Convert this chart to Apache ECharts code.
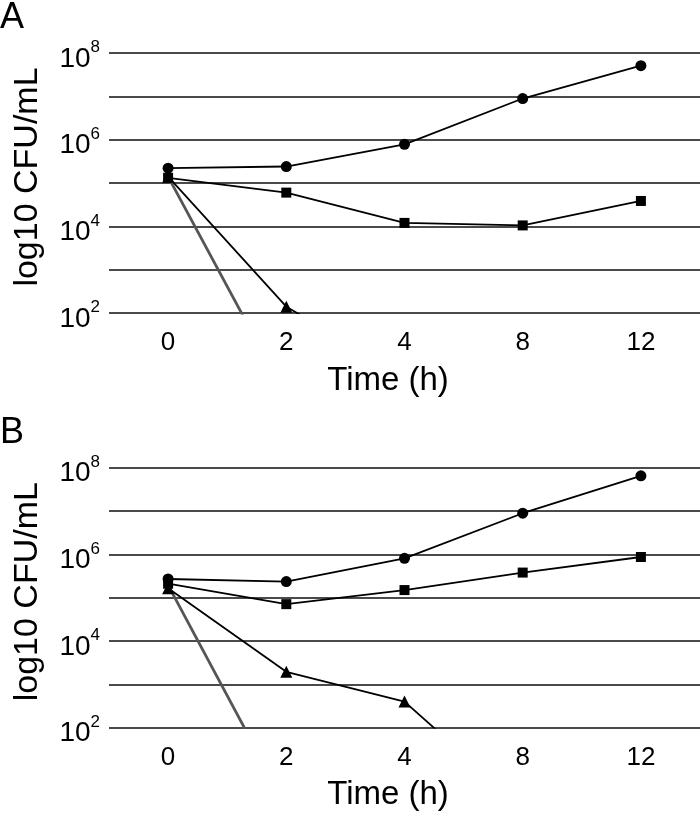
<!DOCTYPE html>
<html>
<head>
<meta charset="utf-8">
<style>
  html, body { margin: 0; padding: 0; background: #fff; }
  #chart { width: 700px; height: 816px; }
</style>
<script src="https://cdn.jsdelivr.net/npm/echarts@6/dist/echarts.min.js"></script>
</head>
<body>
<div id="chart"></div>
<script>
// Time points (h)
const categories = ['0', '2', '4', '8', '12'];

// Panel A (CFU/mL)
const circleA   = [2.2e5, 2.4e5, 7.8e5, 8.9e6, 5.1e7];
const squareA   = [1.32e5, 6.0e4, 1.2e4, 1.05e4, 3.85e4];
const triangleA = [1.4e5, 1.4e2, 3.5, null, null];
const grayA     = [1.4e5, 1.2, null, null, null];

// Panel B (CFU/mL)
const circleB   = [2.7e5, 2.35e5, 8.1e5, 8.9e6, 6.5e7];
const squareB   = [2.1e5, 7.1e4, 1.5e5, 3.8e5, 8.7e5];
const triangleB = [1.66e5, 1.95e3, 4.0e2, 1.5, null];
const grayB     = [1.95e5, 1.55, null, null, null];

const yMin = 1e2, yMax = 1e8;
const panelLabels = ['A', 'B'];
const xTitle = 'Time (h)';
const yTitle = 'log10 CFU/mL';

const FONT = '"Liberation Sans", Arial, Helvetica, sans-serif';
const panelTop = [53, 467.7];
const gridH = 260;

function yAxisFor(gi) {
  return {
    type: 'log', logBase: 10, gridIndex: gi, min: yMin, max: yMax,
    axisLine: { show: false }, axisTick: { show: false },
    splitLine: { show: true, lineStyle: { color: '#4a4a4a', width: 2 } },
    axisLabel: {
      margin: 9,
      formatter: function (v) {
        const e = Math.round(Math.log10(v));
        if (e % 2 !== 0) return '';
        return '{b|10}{s|' + e + '}';
      },
      rich: {
        b: { fontSize: 28, fontFamily: FONT, color: '#000', padding: [12, 0, 0, 0] },
        s: { fontSize: 17, fontFamily: FONT, color: '#000', padding: [0, 0, 11, 0] }
      }
    }
  };
}
function xAxisFor(gi) {
  return {
    type: 'category', gridIndex: gi, data: categories, boundaryGap: true,
    axisLine: { show: false }, axisTick: { show: false },
    axisLabel: { fontSize: 26, fontFamily: FONT, color: '#000', margin: 17 }
  };
}
function lineSeries(gi, data, symbol, size) {
  return {
    type: 'line', xAxisIndex: gi, yAxisIndex: gi, data: data,
    symbol: symbol, symbolSize: size, showSymbol: symbol !== 'none',
    connectNulls: false, clip: true, animation: false,
    lineStyle: { color: '#000', width: 1.8 },
    itemStyle: { color: '#000', borderWidth: 0 }
  };
}
function grayLine(gi, data) {
  return {
    type: 'line', xAxisIndex: gi, yAxisIndex: gi, data: data,
    symbol: 'none', clip: true, animation: false,
    lineStyle: { color: '#555', width: 2.8 }
  };
}

const graphics = [];
panelLabels.forEach(function (lab, i) {
  const off = panelTop[i] - panelTop[0];
  graphics.push({ type: 'text', left: 0, top: 0 + off,
    style: { text: lab, font: '36px ' + FONT, fill: '#000' } });
  graphics.push({ type: 'text', x: 388, y: 364 + off,
    style: { text: xTitle, font: '33px ' + FONT, fill: '#000', textAlign: 'center', textVerticalAlign: 'top' } });
  graphics.push({ type: 'text', x: 28, y: 177 + off, rotation: Math.PI / 2,
    style: { text: yTitle, font: '34px ' + FONT, fill: '#000', textAlign: 'center', textVerticalAlign: 'middle' } });
});

const chart = echarts.init(document.getElementById('chart'), null, { renderer: 'canvas' });
chart.setOption({
  backgroundColor: '#fff',
  animation: false,
  grid: [
    { left: 109, width: 593, top: panelTop[0], height: gridH },
    { left: 109, width: 593, top: panelTop[1], height: gridH }
  ],
  xAxis: [xAxisFor(0), xAxisFor(1)],
  yAxis: [yAxisFor(0), yAxisFor(1)],
  graphic: graphics,
  series: [
    grayLine(0, grayA),
    lineSeries(0, triangleA, 'triangle', 12),
    lineSeries(0, squareA, 'rect', 10),
    lineSeries(0, circleA, 'circle', 11),
    grayLine(1, grayB),
    lineSeries(1, triangleB, 'triangle', 12),
    lineSeries(1, squareB, 'rect', 10),
    lineSeries(1, circleB, 'circle', 11)
  ]
});
</script>
</body>
</html>
